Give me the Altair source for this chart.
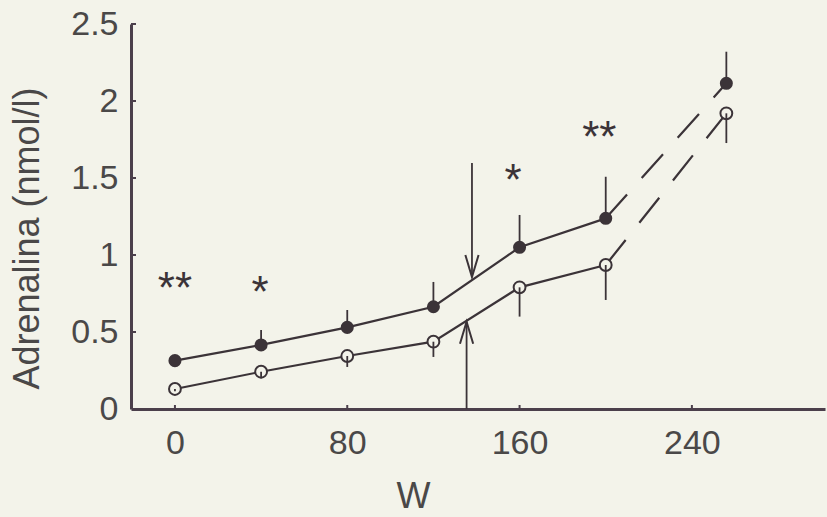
import altair as alt
import pandas as pd

# ---- data ----
W = [0, 40, 80, 120, 160, 200, 256]
filled_mean = [0.314, 0.416, 0.530, 0.664, 1.050, 1.238, 2.115]
filled_upper = [0.330, 0.513, 0.643, 0.825, 1.260, 1.508, 2.320]
open_mean = [0.130, 0.242, 0.344, 0.437, 0.790, 0.935, 1.920]
open_lower = [0.115, 0.200, 0.273, 0.338, 0.600, 0.708, 1.727]

arrow_W = [137.9, 135.4]
arrow_start = [1.597, 0.0]
arrow_tip = [0.857, 0.567]
arrow_dir = ["down", "up"]

star_W = [0, 39.5, 157, 197]
star_y = [0.85, 0.825, 1.55, 1.83]
star_text = ["**", "*", "*", "**"]

x_ticks = [0, 80, 160, 240]
y_ticks = [0, 0.5, 1, 1.5, 2, 2.5]

# ---- styling ----
INK = "#3b3338"
AXIS = "#4b3f4b"
TEXT = "#4a4848"
BG = "#f3f3ea"
FONT = "Liberation Sans"

df = pd.DataFrame({"W": W, "filled": filled_mean, "filled_up": filled_upper,
                   "open": open_mean, "open_low": open_lower})
solid = df.iloc[:6]
dashed = df.iloc[5:]
arrows = pd.DataFrame({"W": arrow_W, "start": arrow_start, "tip": arrow_tip, "dir": arrow_dir})
stars = pd.DataFrame({"W": star_W, "y": star_y, "t": star_text})
yt = pd.DataFrame({"t": y_ticks[1:]})
xt = pd.DataFrame({"t": x_ticks})

PW, PH = 694, 385
xs = alt.Scale(domain=[-20.4, 301.8], nice=False, zero=False)
ys = alt.Scale(domain=[0, 2.5], nice=False)

x_axis = alt.Axis(values=x_ticks, title="W", labelPadding=17, titleX=282, titleY=98,
                  titleBaseline="alphabetic", titleAlign="center", titleAnchor="start",
                  labelFlush=False, labelOverlap=False, domain=True, labels=True)
y_axis = alt.Axis(values=y_ticks, format="~g", title="Adrenalina (nmol/l)", labelPadding=13,
                  titleX=-93, titleY=214, titleAngle=270, titleBaseline="alphabetic",
                  titleAlign="center", titleAnchor="start", labelFlush=False, labelOverlap=False,
                  domain=True, labels=True)


def X(f):
    return alt.X(f, scale=xs)


def Y(f):
    return alt.Y(f, scale=ys)


base_line = alt.Chart(solid).mark_line(color=INK, strokeWidth=2.2).encode(
    x=alt.X("W:Q", scale=xs, axis=x_axis),
    y=alt.Y("filled:Q", scale=ys, axis=y_axis),
)
open_line = alt.Chart(solid).mark_line(color=INK, strokeWidth=2.2).encode(x=X("W:Q"), y=Y("open:Q"))
filled_dash = alt.Chart(dashed).mark_line(color=INK, strokeWidth=2.2, strokeDash=[32, 22]).encode(
    x=X("W:Q"), y=Y("filled:Q"))
open_dash = alt.Chart(dashed).mark_line(color=INK, strokeWidth=2.2, strokeDash=[32, 22]).encode(
    x=X("W:Q"), y=Y("open:Q"))

filled_err = alt.Chart(df).mark_rule(color=INK, strokeWidth=1.8).encode(
    x=X("W:Q"), y=Y("filled:Q"), y2="filled_up:Q")
open_err = alt.Chart(df).mark_rule(color=INK, strokeWidth=1.8).encode(
    x=X("W:Q"), y=Y("open:Q"), y2="open_low:Q")

filled_pts = alt.Chart(df).mark_point(shape="circle", filled=True, color=INK, size=170, opacity=1).encode(
    x=X("W:Q"), y=Y("filled:Q"))
open_pts = alt.Chart(df).mark_point(shape="circle", filled=True, fill=BG, stroke=INK, strokeWidth=2,
                                    size=140, opacity=1).encode(x=X("W:Q"), y=Y("open:Q"))

arrow_shaft = alt.Chart(arrows).mark_rule(color=INK, strokeWidth=1.8).encode(
    x=X("W:Q"), y=Y("start:Q"), y2="tip:Q")
head_down = alt.Chart(arrows).transform_filter(alt.datum.dir == "down").mark_point(
    shape="M-0.6,-1L0,1L0.6,-1", filled=False, color=INK, strokeWidth=2, size=484, opacity=1,
    yOffset=-11).encode(x=X("W:Q"), y=Y("tip:Q"))
head_up = alt.Chart(arrows).transform_filter(alt.datum.dir == "up").mark_point(
    shape="M-0.6,1L0,-1L0.6,1", filled=False, color=INK, strokeWidth=2, size=484, opacity=1,
    yOffset=11).encode(x=X("W:Q"), y=Y("tip:Q"))

star_marks = alt.Chart(stars).mark_text(font=FONT, fontSize=44, color=INK, baseline="alphabetic",
                                        align="center", dy=25).encode(
    x=X("W:Q"), y=Y("y:Q"), text="t:N")

ytick_marks = alt.Chart(yt).mark_rule(color=AXIS, strokeWidth=2).encode(
    y=Y("t:Q"), x=alt.value(0), x2=alt.value(5))
xtick_marks = alt.Chart(xt).mark_rule(color=AXIS, strokeWidth=2).encode(
    x=X("t:Q"), y=alt.value(PH), y2=alt.value(PH - 4))

chart = alt.layer(
    base_line, open_line, filled_dash, open_dash, filled_err, filled_pts, open_pts, open_err,
    arrow_shaft, head_down, head_up, star_marks, ytick_marks, xtick_marks
).properties(
    width=PW, height=PH,
    autosize=alt.AutoSizeParams(type="none"),
    padding={"left": 131, "top": 24, "right": 2, "bottom": 108},
    background=BG,
).configure_view(stroke=None, fill=BG).configure_axis(
    domainColor=AXIS, domainWidth=3, ticks=False, grid=False,
    labelFont=FONT, labelFontSize=34, labelColor=TEXT,
    titleFont=FONT, titleFontSize=36, titleFontWeight="normal", titleColor=TEXT,
)

chart.save("out.html", embed_options={"renderer": "svg", "actions": False})
